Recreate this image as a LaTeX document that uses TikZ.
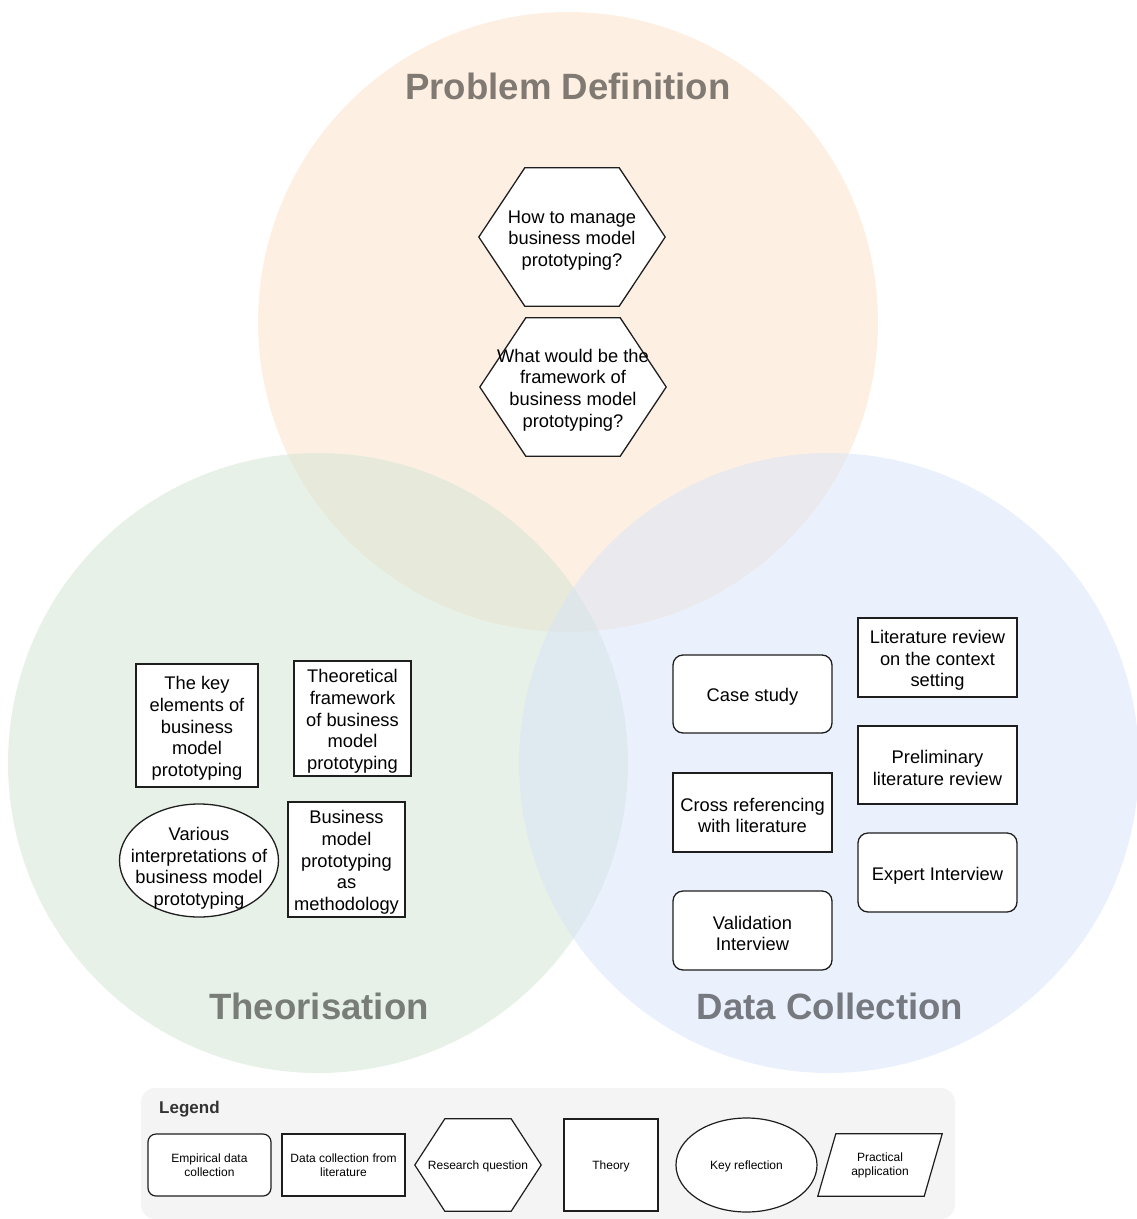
\documentclass[tikz,border=0pt]{standalone}
\usepackage{fontspec}
\setmainfont{Liberation Sans}
\usetikzlibrary{shapes.geometric}

\definecolor{pdfill}{RGB}{252,225,200}
\definecolor{thfill}{RGB}{209,228,209}
\definecolor{dcfill}{RGB}{215,227,249}
\definecolor{pdtext}{RGB}{128,122,115}
\definecolor{thtext}{RGB}{120,126,119}
\definecolor{dctext}{RGB}{118,122,128}
\definecolor{legendbg}{RGB}{244,244,244}
\definecolor{edge}{RGB}{30,30,30}

\pgfdeclarelayer{back}
\pgfdeclarelayer{shapes}
\pgfsetlayers{back,shapes,main}

% taller first line, so the text block sits a little lower in its shape
\newcommand{\topstrut}{\rule{0pt}{19pt}}

% hexagon outline around a named node, flat top and bottom
\newcommand{\hexoutline}[3]{%
  \begin{pgfonlayer}{shapes}
    \draw[#3] (#1.west) -- ([xshift=#2pt]#1.north west) -- ([xshift=-#2pt]#1.north east)
      -- (#1.east) -- ([xshift=-#2pt]#1.south east) -- ([xshift=#2pt]#1.south west) -- cycle;
  \end{pgfonlayer}}

\begin{document}
\begin{tikzpicture}[x=1pt,y=-1pt,
  outline/.style={draw=edge, line width=1.3pt, fill=white},
  body/.style={font=\fontsize{18.3}{21.6}\selectfont, align=center, inner sep=0pt},
  boxnode/.style={body, outline, rectangle},
  roundnode/.style={body, outline, rectangle, rounded corners=10pt},
  plainnode/.style={body, rectangle},
  title/.style={font=\fontsize{36.6}{44}\selectfont\bfseries, inner sep=0pt},
  legtext/.style={font=\fontsize{12}{14}\selectfont, align=center, inner sep=0pt,
    execute at begin node={\rule{0pt}{12pt}}},
  legline/.style={draw=edge, line width=1.2pt, fill=white},
  setcircle/.style={fill opacity=0.5}
]
\useasboundingbox (0,0) rectangle (1137,1219);

% the three overlapping areas
\begin{pgfonlayer}{back}
  \clip (0,0) rectangle (1137,1219);
  \fill[pdfill, setcircle] (568,322) circle[radius=310];
  \fill[thfill, setcircle] (318,763) circle[radius=310];
  \fill[dcfill, setcircle] (829,763) circle[radius=310];
  \fill[legendbg, rounded corners=14pt] (141,1088) rectangle (955,1219);
\end{pgfonlayer}

% area titles
\node[title, text=pdtext] (tpd) at (568,86) {Problem Definition};
\node[title, text=thtext] (tth) at (319,1006) {Theorisation};
\node[title, text=dctext] (tdc) at (830,1006) {Data Collection};

% research questions
\node[plainnode, minimum width=186pt, minimum height=138pt] (q1) at (572,237)
  {\topstrut How to manage\\business model\\prototyping?};
\hexoutline{q1}{46}{outline}
\node[plainnode, minimum width=186pt, minimum height=138pt] (q2) at (573,387)
  {\topstrut What would be the\\framework of\\business model\\prototyping?};
\hexoutline{q2}{46}{outline}

% theory
\node[boxnode, minimum width=122pt, minimum height=123pt] (t1) at (197,725.5)
  {\topstrut The key\\elements of\\business\\model\\prototyping};
\node[boxnode, minimum width=117pt, minimum height=115pt] (t2) at (352.5,718.5)
  {\topstrut Theoretical\\framework\\of business\\model\\prototyping};
\node[plainnode, minimum width=159pt, minimum height=113pt] (t3) at (199,865.5)
  {\topstrut Various\\interpretations of\\business model\\prototyping};
\begin{pgfonlayer}{shapes}
  \draw[outline] ([yshift=5pt]t3.center) ellipse [x radius=79.5, y radius=56.5];
\end{pgfonlayer}
\node[boxnode, minimum width=117pt, minimum height=115pt] (t4) at (346.5,859.5)
  {\topstrut Business\\model\\prototyping\\as\\methodology};

% data collection
\node[roundnode, minimum width=159pt, minimum height=78pt] (d1) at (752.5,694) {\topstrut Case study};
\node[boxnode, minimum width=159pt, minimum height=79pt] (d2) at (937.5,657.5)
  {\topstrut Literature review\\on the context\\setting};
\node[boxnode, minimum width=159pt, minimum height=78pt] (d3) at (937.5,765)
  {\topstrut Preliminary\\literature review};
\node[boxnode, minimum width=159pt, minimum height=79pt] (d4) at (752.5,812.5)
  {\topstrut Cross referencing\\with literature};
\node[roundnode, minimum width=159pt, minimum height=79pt] (d5) at (937.5,872.5) {\topstrut Expert Interview};
\node[roundnode, minimum width=159pt, minimum height=79pt] (d6) at (752.5,930.5)
  {\topstrut Validation\\Interview};

% legend
\node[font=\fontsize{17}{20}\selectfont\bfseries, text=black!80, inner sep=0pt, anchor=west] (lg) at (159,1109) {Legend};
\node[legtext, legline, rounded corners=8pt, minimum width=123pt, minimum height=62pt] (l1) at (209.5,1165)
  {Empirical data\\collection};
\node[legtext, legline, minimum width=123pt, minimum height=62pt] (l2) at (343.5,1165)
  {Data collection from\\literature};
\node[legtext, minimum width=126pt, minimum height=92pt] (l3) at (478,1165) {Research question};
\hexoutline{l3}{30}{legline}
\node[legtext, legline, minimum width=94pt, minimum height=92pt] (l4) at (611,1165) {Theory};
\node[legtext, minimum width=141pt, minimum height=94pt] (l5) at (746.5,1165) {Key reflection};
\begin{pgfonlayer}{shapes}
  \draw[legline] (l5.center) ellipse [x radius=70.5, y radius=47];
\end{pgfonlayer}
\node[legtext, minimum width=124pt, minimum height=62pt] (l6) at (880,1165) {Practical\\application};
\begin{pgfonlayer}{shapes}
  \draw[legline] (l6.south west) -- ([xshift=18pt]l6.north west) -- (l6.north east)
    -- ([xshift=-18pt]l6.south east) -- cycle;
\end{pgfonlayer}
\end{tikzpicture}
\end{document}
